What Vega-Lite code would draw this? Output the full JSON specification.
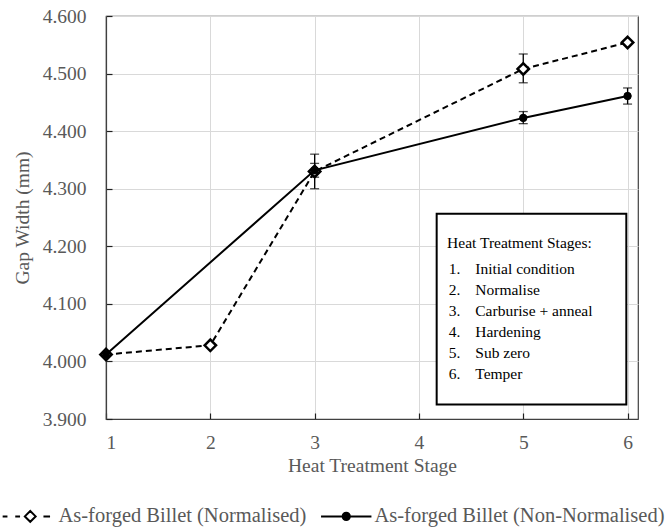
{
  "$schema": "https://vega.github.io/schema/vega-lite/v6.json",
  "width": 532,
  "height": 403,
  "autosize": {"type": "none"},
  "padding": {"left": 106, "top": 16, "right": 31, "bottom": 112},
  "background": "white",
  "config": {
    "font": "Liberation Serif",
    "view": {"stroke": "#404040", "strokeWidth": 1.2},
    "axis": {
      "labelFont": "Liberation Serif",
      "titleFont": "Liberation Serif",
      "labelFontSize": 19.5,
      "titleFontSize": 19.5,
      "labelColor": "#595959",
      "titleColor": "#595959",
      "titleFontWeight": "normal",
      "gridColor": "#d9d9d9",
      "gridWidth": 1,
      "domainColor": "#404040",
      "domainWidth": 1.2,
      "tickColor": "#202020",
      "tickWidth": 1.2,
      "tickSize": -6
    },
    "legend": {
      "labelFont": "Liberation Serif",
      "labelFontSize": 20.5,
      "labelColor": "#595959",
      "labelLimit": 400
    }
  },
  "datasets": {
    "gaps": [
      {"stage": 1, "series": "As-forged Billet (Normalised)", "gap": 4.012},
      {"stage": 2, "series": "As-forged Billet (Normalised)", "gap": 4.028},
      {"stage": 3, "series": "As-forged Billet (Normalised)", "gap": 4.330, "lo": 4.300, "hi": 4.360},
      {"stage": 5, "series": "As-forged Billet (Normalised)", "gap": 4.508, "lo": 4.484, "hi": 4.534},
      {"stage": 6, "series": "As-forged Billet (Normalised)", "gap": 4.554},
      {"stage": 1, "series": "As-forged Billet (Non-Normalised)", "gap": 4.012},
      {"stage": 3, "series": "As-forged Billet (Non-Normalised)", "gap": 4.332, "lo": 4.320, "hi": 4.344},
      {"stage": 5, "series": "As-forged Billet (Non-Normalised)", "gap": 4.423, "lo": 4.413, "hi": 4.434},
      {"stage": 6, "series": "As-forged Billet (Non-Normalised)", "gap": 4.461, "lo": 4.447, "hi": 4.475}
    ],
    "note": [{"title": "Heat Treatment Stages:"}]
  },
  "layer": [
    {
      "data": {"name": "note"},
      "mark": {"type": "rect", "fill": "white", "stroke": "black", "strokeWidth": 2},
      "encoding": {
        "x": {"datum": 4.17, "type": "quantitative", "title": "Heat Treatment Stage", "scale": {"domain": [1, 6.1], "nice": false, "zero": false},
          "axis": {"values": [1, 2, 3, 4, 5, 6], "format": "d", "title": "Heat Treatment Stage", "labelPadding": 20, "titlePadding": 5, "grid": true}},
        "x2": {"datum": 5.988},
        "y": {"datum": 4.2564, "type": "quantitative", "title": "Gap Width (mm)", "scale": {"domain": [3.9, 4.6], "nice": false, "zero": false},
          "axis": {"values": [3.9, 4.0, 4.1, 4.2, 4.3, 4.4, 4.5, 4.6], "format": ".3f", "title": "Gap Width (mm)", "labelPadding": 26, "titlePadding": 10, "grid": true}},
        "y2": {"datum": 3.925}
      }
    },
    {
      "data": {"name": "gaps"},
      "transform": [{"filter": "datum.series == 'As-forged Billet (Normalised)'"}],
      "mark": {"type": "line", "color": "black", "strokeWidth": 2, "strokeDash": [6, 4]},
      "encoding": {
        "x": {"field": "stage", "type": "quantitative", "title": "Heat Treatment Stage"},
        "y": {"field": "gap", "type": "quantitative", "title": "Gap Width (mm)"}
      }
    },
    {
      "data": {"name": "gaps"},
      "transform": [{"filter": "datum.series == 'As-forged Billet (Non-Normalised)'"}],
      "mark": {"type": "line", "color": "black", "strokeWidth": 2},
      "encoding": {
        "x": {"field": "stage", "type": "quantitative", "title": "Heat Treatment Stage"},
        "y": {"field": "gap", "type": "quantitative", "title": "Gap Width (mm)"}
      }
    },
    {
      "data": {"name": "gaps"},
      "transform": [{"filter": "datum.lo != null"}],
      "mark": {"type": "errorbar", "color": "black", "thickness": 1.3, "ticks": {"size": 9, "thickness": 1.3, "color": "black"}},
      "encoding": {
        "x": {"field": "stage", "type": "quantitative", "title": "Heat Treatment Stage"},
        "y": {"field": "lo", "type": "quantitative", "title": "Gap Width (mm)"},
        "y2": {"field": "hi"}
      }
    },
    {
      "data": {"name": "gaps"},
      "transform": [{"filter": "datum.series == 'As-forged Billet (Normalised)'"}],
      "mark": {"type": "point", "shape": "diamond", "filled": true, "fill": "white", "stroke": "black", "strokeWidth": 2.5, "size": 130, "opacity": 1},
      "encoding": {
        "x": {"field": "stage", "type": "quantitative", "title": "Heat Treatment Stage"},
        "y": {"field": "gap", "type": "quantitative", "title": "Gap Width (mm)"}
      }
    },
    {
      "data": {"name": "gaps"},
      "transform": [{"filter": "datum.series == 'As-forged Billet (Non-Normalised)'"}],
      "mark": {"type": "point", "shape": "circle", "filled": true, "fill": "black", "stroke": "black", "strokeWidth": 1, "size": 55, "opacity": 1},
      "encoding": {
        "x": {"field": "stage", "type": "quantitative", "title": "Heat Treatment Stage"},
        "y": {"field": "gap", "type": "quantitative", "title": "Gap Width (mm)"}
      }
    },
    {
      "data": {"name": "gaps"},
      "mark": {"type": "point", "filled": true, "strokeWidth": 2, "opacity": 0, "size": 1},
      "encoding": {
        "x": {"field": "stage", "type": "quantitative", "title": "Heat Treatment Stage"},
        "y": {"field": "gap", "type": "quantitative", "title": "Gap Width (mm)"},
        "shape": {
          "field": "series", "type": "nominal",
          "scale": {
            "domain": ["As-forged Billet (Normalised)", "As-forged Billet (Non-Normalised)"],
            "range": [
              "M-4.6,0L-3.8,0M-2.5,0L-1.7,0M2.2,0L3.3,0M0,-0.9L0.9,0L0,0.9L-0.9,0Z",
              "M-4.2,0L4.2,0M0.6,0A0.6,0.6,0,1,1,-0.6,0A0.6,0.6,0,1,1,0.6,0Z"
            ]
          },
          "legend": {
            "title": null, "orient": "none", "direction": "horizontal", "legendX": -86, "legendY": 490,
            "symbolSize": 144, "symbolStrokeWidth": 2, "symbolStrokeColor": "black", "symbolOpacity": 1,
            "labelOffset": 18, "columnPadding": 10
          }
        },
        "fill": {
          "field": "series", "type": "nominal",
          "scale": {"domain": ["As-forged Billet (Normalised)", "As-forged Billet (Non-Normalised)"], "range": ["white", "black"]},
          "legend": {
            "title": null, "orient": "none", "direction": "horizontal", "legendX": -86, "legendY": 490,
            "symbolSize": 144, "symbolStrokeWidth": 2, "symbolStrokeColor": "black", "symbolOpacity": 1,
            "labelOffset": 18, "columnPadding": 10
          }
        },
        "stroke": {
          "field": "series", "type": "nominal",
          "scale": {"domain": ["As-forged Billet (Normalised)", "As-forged Billet (Non-Normalised)"], "range": ["black", "black"]},
          "legend": {
            "title": null, "orient": "none", "direction": "horizontal", "legendX": -86, "legendY": 490,
            "symbolSize": 144, "symbolStrokeWidth": 2, "symbolStrokeColor": "black", "symbolOpacity": 1,
            "labelOffset": 18, "columnPadding": 10
          }
        }
      }
    },
    {
      "data": {"name": "note"},
      "mark": {"type": "text", "align": "left", "baseline": "middle", "font": "Liberation Serif", "fontSize": 15.5, "color": "black"},
      "encoding": {"text": {"field": "title"}, "x": {"datum": 4.27}, "y": {"datum": 4.206}}
    },
    {
      "data": {"name": "note"},
      "mark": {"type": "text", "text": ["1.", "2.", "3.", "4.", "5.", "6."], "lineHeight": 21, "align": "left", "baseline": "middle", "font": "Liberation Serif", "fontSize": 15.5, "color": "black"},
      "encoding": {"x": {"datum": 4.285}, "y": {"datum": 4.161}}
    },
    {
      "data": {"name": "note"},
      "mark": {"type": "text", "text": ["Initial condition", "Normalise", "Carburise + anneal", "Hardening", "Sub zero", "Temper"], "lineHeight": 21, "align": "left", "baseline": "middle", "font": "Liberation Serif", "fontSize": 15.5, "color": "black"},
      "encoding": {"x": {"datum": 4.54}, "y": {"datum": 4.161}}
    }
  ]
}
